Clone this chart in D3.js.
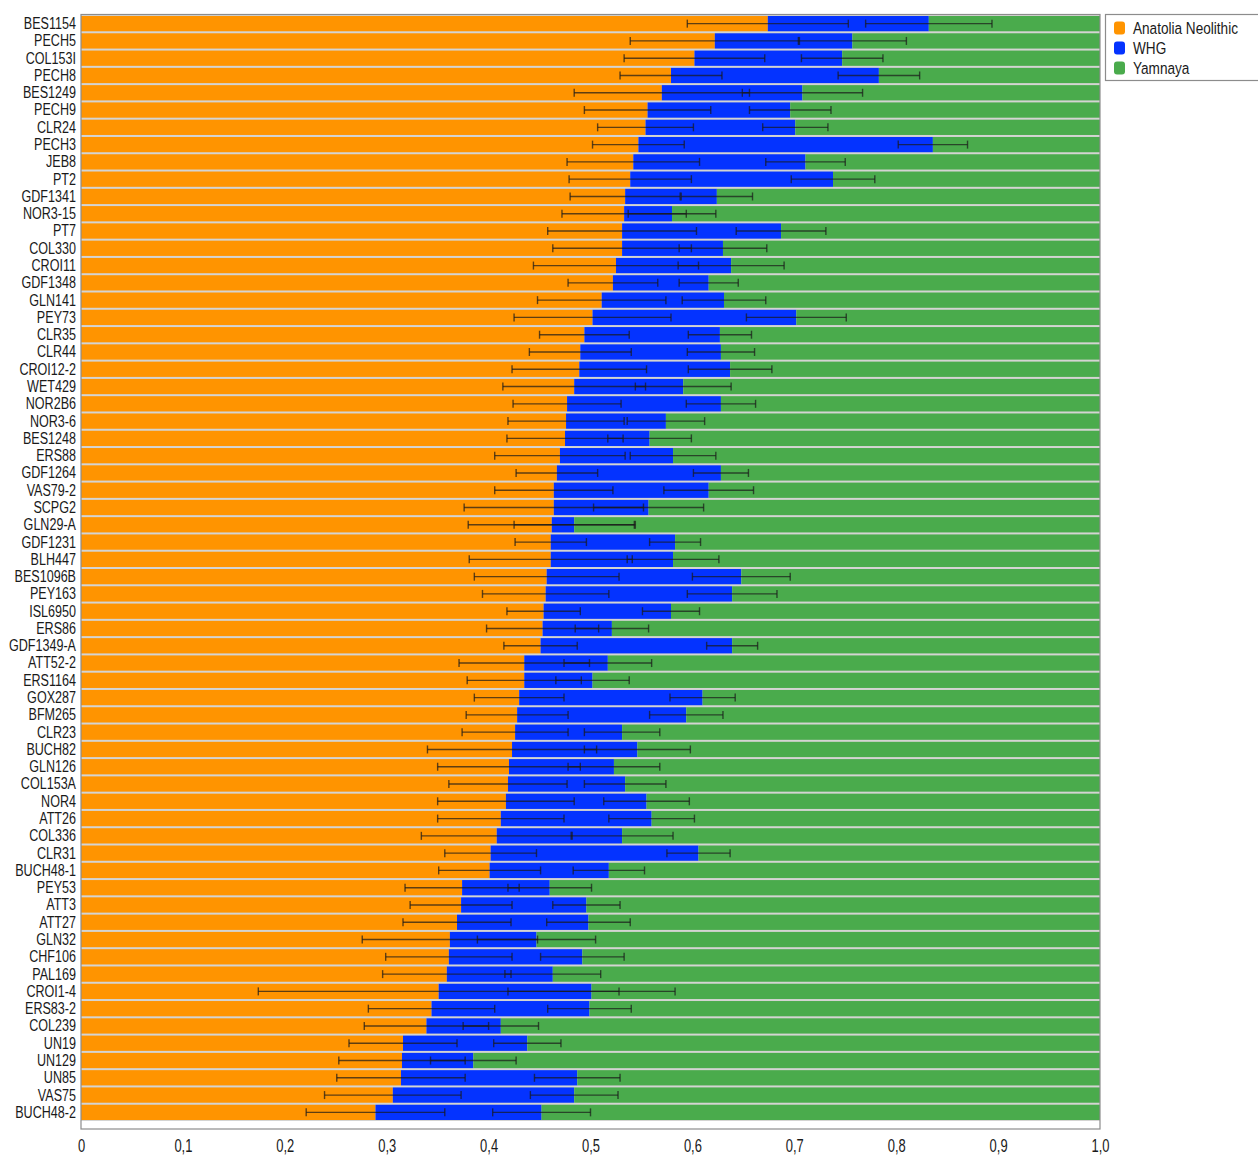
<!DOCTYPE html>
<html>
<head>
<meta charset="utf-8">
<script src="https://cdn.jsdelivr.net/npm/d3@7"></script>
<style>
  html, body { margin: 0; padding: 0; background: #fff; }
  svg { display: block; font-family: "Liberation Sans", Arial, sans-serif; }
</style>
</head>
<body>
<svg id="chart" width="1258" height="1155"></svg>
<script>
const samples = ["BES1154","PECH5","COL153I","PECH8","BES1249","PECH9","CLR24","PECH3","JEB8","PT2",
  "GDF1341","NOR3-15","PT7","COL330","CROI11","GDF1348","GLN141","PEY73","CLR35","CLR44",
  "CROI12-2","WET429","NOR2B6","NOR3-6","BES1248","ERS88","GDF1264","VAS79-2","SCPG2","GLN29-A",
  "GDF1231","BLH447","BES1096B","PEY163","ISL6950","ERS86","GDF1349-A","ATT52-2","ERS1164","GOX287",
  "BFM265","CLR23","BUCH82","GLN126","COL153A","NOR4","ATT26","COL336","CLR31","BUCH48-1",
  "PEY53","ATT3","ATT27","GLN32","CHF106","PAL169","CROI1-4","ERS83-2","COL239","UN19",
  "UN129","UN85","VAS75","BUCH48-2"];

const anatolia = [0.674,0.622,0.602,0.579,0.570,0.556,0.554,0.547,0.542,0.539,
  0.534,0.533,0.531,0.531,0.525,0.522,0.511,0.502,0.494,0.490,
  0.489,0.484,0.477,0.476,0.475,0.470,0.467,0.464,0.464,0.462,
  0.461,0.461,0.457,0.456,0.454,0.453,0.451,0.435,0.435,0.430,
  0.428,0.426,0.423,0.420,0.419,0.417,0.412,0.408,0.402,0.401,
  0.374,0.373,0.369,0.362,0.361,0.359,0.351,0.344,0.339,0.316,
  0.315,0.314,0.306,0.289];

const whg = [0.158,0.135,0.145,0.204,0.138,0.140,0.147,0.289,0.169,0.199,
  0.090,0.047,0.156,0.099,0.113,0.094,0.120,0.200,0.133,0.138,
  0.148,0.107,0.151,0.098,0.083,0.111,0.161,0.152,0.093,0.022,
  0.122,0.120,0.191,0.183,0.125,0.068,0.188,0.082,0.067,0.180,
  0.166,0.105,0.123,0.103,0.115,0.138,0.148,0.123,0.204,0.117,
  0.086,0.123,0.129,0.085,0.131,0.104,0.150,0.155,0.073,0.122,
  0.070,0.173,0.178,0.163];

const yamnaya = [0.168,0.243,0.253,0.217,0.292,0.304,0.299,0.164,0.289,0.262,
  0.376,0.420,0.313,0.370,0.362,0.384,0.369,0.298,0.373,0.372,
  0.363,0.409,0.372,0.426,0.442,0.419,0.372,0.384,0.443,0.516,
  0.417,0.419,0.352,0.361,0.421,0.479,0.361,0.483,0.498,0.390,
  0.406,0.469,0.454,0.477,0.466,0.445,0.440,0.469,0.394,0.482,
  0.540,0.504,0.502,0.553,0.508,0.537,0.499,0.501,0.588,0.562,
  0.615,0.513,0.516,0.548];

// half-widths of the error bars at the Anatolia/WHG and WHG/Yamnaya boundaries
const errAnatolia = [0.079,0.083,0.069,0.050,0.086,0.062,0.047,0.045,0.065,0.060,
  0.054,0.061,0.073,0.068,0.081,0.044,0.063,0.077,0.044,0.050,
  0.066,0.070,0.053,0.057,0.057,0.064,0.040,0.058,0.088,0.082,
  0.035,0.080,0.071,0.062,0.036,0.055,0.036,0.064,0.056,0.044,
  0.050,0.052,0.083,0.070,0.058,0.067,0.062,0.074,0.045,0.050,
  0.056,0.050,0.053,0.086,0.062,0.063,0.177,0.062,0.061,0.053,
  0.062,0.063,0.067,0.068];

const errWHG = [0.062,0.053,0.040,0.040,0.059,0.040,0.032,0.034,0.039,0.041,
  0.035,0.043,0.044,0.043,0.052,0.029,0.041,0.049,0.031,0.033,
  0.041,0.047,0.034,0.038,0.041,0.042,0.027,0.044,0.054,0.059,
  0.025,0.045,0.048,0.044,0.028,0.036,0.025,0.043,0.036,0.032,
  0.036,0.037,0.052,0.045,0.040,0.042,0.042,0.050,0.031,0.035,
  0.041,0.033,0.041,0.058,0.041,0.047,0.082,0.041,0.037,0.033,
  0.042,0.042,0.043,0.048];

const seriesNames = ["Anatolia Neolithic","WHG","Yamnaya"];
const seriesColors = ["#ff9400","#0433ff","#4aab4c"];
const xTickValues = [0,0.1,0.2,0.3,0.4,0.5,0.6,0.7,0.8,0.9,1.0];
const xTickLabels = ["0","0,1","0,2","0,3","0,4","0,5","0,6","0,7","0,8","0,9","1,0"];

(function draw() {
const svg = d3.select("#chart");
const mLeft = 81, mRight = 1100, mTop = 15, barsBottom = 1121, frameBottom = 1129;

const x = d3.scaleLinear().domain([0,1]).range([mLeft, mRight]);
const y = d3.scaleBand().domain(samples).range([mTop, barsBottom]).paddingInner(0);
const color = d3.scaleOrdinal().domain(seriesNames).range(seriesColors);

const rows = samples.map((s,i) => ({
  sample: s,
  "Anatolia Neolithic": anatolia[i],
  "WHG": whg[i],
  "Yamnaya": yamnaya[i]
}));
const stacked = d3.stack().keys(seriesNames)(rows);

// gap colour behind the bars
svg.append("rect")
  .attr("x", x(0)).attr("y", mTop)
  .attr("width", x(1) - x(0)).attr("height", barsBottom - mTop)
  .attr("fill", "#d4d4d2");

const bw = y.bandwidth();
svg.append("g").selectAll("g")
  .data(stacked).join("g")
  .attr("fill", d => color(d.key))
  .selectAll("rect")
  .data(d => d).join("rect")
  .attr("x", d => x(d[0]))
  .attr("y", d => y(d.data.sample) + 1)
  .attr("width", d => x(d[1]) - x(d[0]))
  .attr("height", bw - 2);

// error bars
const errData = [];
samples.forEach((s,i) => {
  errData.push({sample: s, c: anatolia[i], e: errAnatolia[i]});
  errData.push({sample: s, c: anatolia[i] + whg[i], e: errWHG[i]});
});
const eg = svg.append("g")
  .attr("stroke", "#1a1a1a").attr("stroke-opacity", 0.7).attr("stroke-width", 1.4).attr("fill", "none");
const capH = 4;
eg.selectAll("g").data(errData).join("g").each(function(d){
  const g = d3.select(this);
  const cy = y(d.sample) + bw / 2;
  const x1 = x(d.c - d.e), x2 = x(d.c + d.e);
  g.append("line").attr("x1", x1).attr("x2", x2).attr("y1", cy).attr("y2", cy);
  g.append("line").attr("x1", x1).attr("x2", x1).attr("y1", cy - capH).attr("y2", cy + capH);
  g.append("line").attr("x1", x2).attr("x2", x2).attr("y1", cy - capH).attr("y2", cy + capH);
});

// frame
svg.append("rect")
  .attr("x", mLeft).attr("y", mTop - 0.5)
  .attr("width", mRight - mLeft).attr("height", frameBottom - mTop + 0.5)
  .attr("fill", "none").attr("stroke", "#8c8c8c").attr("stroke-width", 1.2);

// y axis labels
const sx = 0.74;
const yAxis = svg.append("g")
  .attr("transform", `translate(${mLeft},0)`)
  .call(d3.axisLeft(y).tickSize(0).tickPadding(5));
yAxis.select(".domain").remove();
yAxis.selectAll("text")
  .attr("x", -5 / sx)
  .attr("transform", `scale(${sx},1)`)
  .attr("font-size", 17)
  .attr("font-family", "'Liberation Sans', Arial, sans-serif")
  .attr("fill", "#1a1a1a");

// x axis labels
const xAxis = svg.append("g")
  .attr("transform", `translate(0,${frameBottom})`)
  .call(d3.axisBottom(x).tickValues(xTickValues).tickSize(0).tickPadding(10)
    .tickFormat((d,i) => xTickLabels[i]));
xAxis.select(".domain").remove();
xAxis.selectAll("text")
  .attr("transform", "scale(0.72,1)")
  .attr("font-size", 18)
  .attr("font-family", "'Liberation Sans', Arial, sans-serif")
  .attr("fill", "#1a1a1a");

// legend
const lg = svg.append("g");
lg.append("rect")
  .attr("x", 1105.5).attr("y", 14.5).attr("width", 170).attr("height", 66)
  .attr("fill", "#fff").attr("stroke", "#8c8c8c").attr("stroke-width", 1.2);
seriesNames.forEach((name, i) => {
  const cy = 28 + i * 20;
  lg.append("rect")
    .attr("x", 1114).attr("y", cy - 6.5).attr("width", 11).attr("height", 13)
    .attr("rx", 3).attr("fill", color(name));
  lg.append("text")
    .attr("transform", `translate(1133,${cy}) scale(0.8,1)`)
    .attr("dy", "0.35em")
    .attr("font-size", 17)
    .attr("fill", "#1a1a1a")
    .text(name);
});
})();
</script>
</body>
</html>
